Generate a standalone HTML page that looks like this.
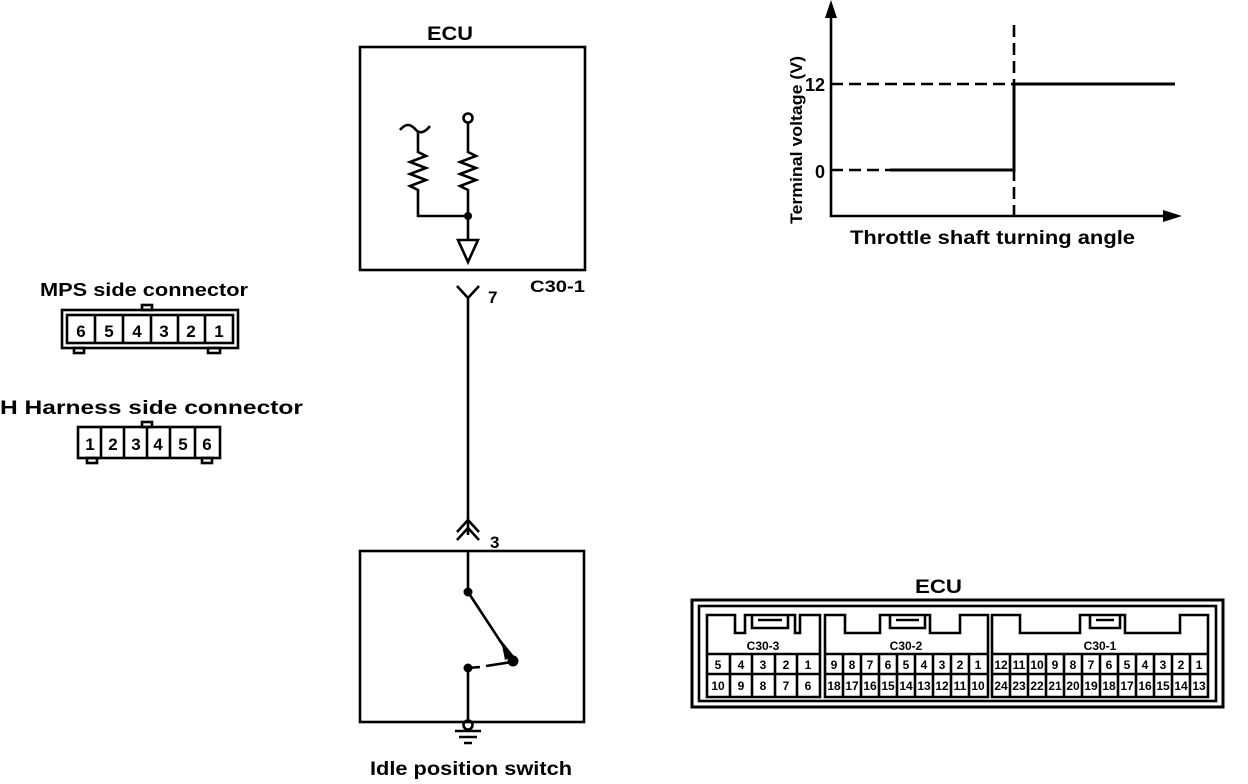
<!DOCTYPE html>
<html><head><meta charset="utf-8"><style>
html,body{margin:0;padding:0;background:#fff}
svg{display:block}
text{font-family:"Liberation Sans",sans-serif;font-weight:bold;fill:#000}
</style></head><body>
<svg width="1248" height="784" viewBox="0 0 1248 784" xmlns="http://www.w3.org/2000/svg">
<g stroke="#000" fill="none" stroke-width="2.6">
<!-- top ECU box -->
<rect x="360" y="47" width="225" height="223"/>
<path d="M400 130 q8 -10 16 0 q6 6 14 -4"/>
<path d="M418 131 V152 l8 4 -16 6 16 6 -16 6 16 6 -16 6 8 4 V216 H468"/>
<circle cx="468" cy="118" r="4.5"/>
<path d="M468 122 V152 l8 4 -16 6 16 6 -16 6 16 6 -16 6 8 4 V240"/>
<path d="M458 240 H478 L468 262 Z"/>
<path d="M457 286 L468 298 L479 286 M468 298 V535"/>
<path d="M457 532 L468 520 L479 532 M457 540 L468 528 L479 540"/>
<rect x="360" y="551" width="224" height="171"/>
<path d="M468 551 V592 L510 656"/>
<path d="M468 668 V720 M468 668 L480 667 M486 666 L512 662"/>
<circle cx="468" cy="725" r="4.5"/>
<path d="M455 731 H481 M459 737 H477 M464 743 H472"/>
<!-- chart -->
<path d="M831 10 V216 H1170"/>
<path d="M831 84 H1014 M831 170 H890 M1014 25 V216" stroke-dasharray="12,6"/>
<path d="M890 170 H1014 V84 H1175" stroke-width="3"/>
<!-- MPS connector -->
<rect x="62" y="310" width="176" height="38"/>
<rect x="67" y="315" width="166" height="28"/>
<path d="M95 315V343 M123 315V343 M151 315V343 M178 315V343 M205 315V343"/>
<rect x="142" y="305" width="10" height="5"/>
<rect x="74" y="348" width="10" height="5"/>
<rect x="208" y="348" width="12" height="5"/>
<rect x="78" y="427" width="142" height="31"/>
<path d="M101 427V458 M124 427V458 M147 427V458 M170 427V458 M195 427V458"/>
<rect x="142" y="422" width="10" height="5"/>
<rect x="87" y="458" width="10" height="5"/>
<rect x="202" y="458" width="10" height="5"/>
<!-- bottom ECU -->
<rect x="692" y="600" width="531" height="107" stroke-width="3"/>
<rect x="699" y="606" width="517" height="95"/>
<path d="M707 697 V615 H735 V633 H745 V615 H795 V633 H800 V615 H820 V697 Z"/>
<path d="M752 615 V628 H788 V615 M758 620 H782"/>
<path d="M707 654 H820 M707 674 H820 M730 654V697 M752 654V697 M775 654V697 M797 654V697"/>
<path d="M825 697 V615 H845 V633 H880 V615 H930 V633 H960 V615 H988 V697 Z"/>
<path d="M890 615 V628 H925 V615 M896 620 H919"/>
<path d="M825 654 H988 M825 674 H988"/>
<path d="M843 654V697 M861 654V697 M879 654V697 M897 654V697 M915 654V697 M933 654V697 M951 654V697 M969 654V697"/>
<path d="M992 697 V615 H1020 V633 H1080 V615 H1125 V633 H1180 V615 H1208 V697 Z"/>
<path d="M1090 615 V628 H1120 V615 M1096 620 H1114"/>
<path d="M992 654 H1208 M992 674 H1208"/>
<path d="M1010 654V697 M1028 654V697 M1046 654V697 M1064 654V697 M1082 654V697 M1100 654V697 M1118 654V697 M1136 654V697 M1154 654V697 M1172 654V697 M1190 654V697"/>
</g>
<g fill="#000">
<circle cx="468" cy="216" r="4"/>
<circle cx="468" cy="592" r="4.5"/>
<circle cx="468" cy="668" r="4.5"/>
<circle cx="513" cy="661" r="5.5"/>
<path d="M501 640 L514 656 L505 660 Z"/>
<path d="M825 18 L831 0 L837 18 Z"/>
<path d="M1163 210 L1182 216 L1163 222 Z"/>
</g>
<text x="427" y="40" font-size="19" textLength="46" lengthAdjust="spacingAndGlyphs">ECU</text>
<text x="488" y="303" font-size="17">7</text>
<text x="530" y="292" font-size="17" textLength="55" lengthAdjust="spacingAndGlyphs">C30-1</text>
<text x="490" y="548" font-size="17">3</text>
<text x="370" y="775" font-size="19" textLength="202" lengthAdjust="spacingAndGlyphs">Idle position switch</text>
<text x="815" y="91" font-size="18" text-anchor="middle">12</text>
<text x="820" y="178" font-size="18" text-anchor="middle">0</text>
<text transform="translate(802,140) rotate(-90)" font-size="17" text-anchor="middle" textLength="168" lengthAdjust="spacingAndGlyphs">Terminal voltage (V)</text>
<text x="850" y="244" font-size="19" textLength="285" lengthAdjust="spacingAndGlyphs">Throttle shaft turning angle</text>
<text x="40" y="296" font-size="18" textLength="208" lengthAdjust="spacingAndGlyphs">MPS side connector</text>
<text x="0" y="414" font-size="19" textLength="303" lengthAdjust="spacingAndGlyphs">H Harness side connector</text>
<g font-size="17" text-anchor="middle">
<text x="81" y="337">6</text><text x="109" y="337">5</text><text x="137" y="337">4</text><text x="164" y="337">3</text><text x="191" y="337">2</text><text x="219" y="337">1</text>
<text x="90" y="450">1</text><text x="113" y="450">2</text><text x="136" y="450">3</text><text x="158" y="450">4</text><text x="183" y="450">5</text><text x="207" y="450">6</text>
</g>
<text x="915" y="593" font-size="19" textLength="47" lengthAdjust="spacingAndGlyphs">ECU</text>
<g font-size="12" text-anchor="middle">
<text x="763" y="650">C30-3</text><text x="906" y="650">C30-2</text><text x="1100" y="650">C30-1</text>
<text x="718" y="669">5</text><text x="741" y="669">4</text><text x="763" y="669">3</text><text x="786" y="669">2</text><text x="808" y="669">1</text>
<text x="718" y="690">10</text><text x="741" y="690">9</text><text x="763" y="690">8</text><text x="786" y="690">7</text><text x="808" y="690">6</text>
<text x="834" y="669">9</text><text x="852" y="669">8</text><text x="870" y="669">7</text><text x="888" y="669">6</text><text x="906" y="669">5</text><text x="924" y="669">4</text><text x="942" y="669">3</text><text x="960" y="669">2</text><text x="978" y="669">1</text>
<text x="834" y="690">18</text><text x="852" y="690">17</text><text x="870" y="690">16</text><text x="888" y="690">15</text><text x="906" y="690">14</text><text x="924" y="690">13</text><text x="942" y="690">12</text><text x="960" y="690">11</text><text x="978" y="690">10</text>
<text x="1001" y="669">12</text><text x="1019" y="669">11</text><text x="1037" y="669">10</text><text x="1055" y="669">9</text><text x="1073" y="669">8</text><text x="1091" y="669">7</text><text x="1109" y="669">6</text><text x="1127" y="669">5</text><text x="1145" y="669">4</text><text x="1163" y="669">3</text><text x="1181" y="669">2</text><text x="1199" y="669">1</text>
<text x="1001" y="690">24</text><text x="1019" y="690">23</text><text x="1037" y="690">22</text><text x="1055" y="690">21</text><text x="1073" y="690">20</text><text x="1091" y="690">19</text><text x="1109" y="690">18</text><text x="1127" y="690">17</text><text x="1145" y="690">16</text><text x="1163" y="690">15</text><text x="1181" y="690">14</text><text x="1199" y="690">13</text>
</g>
</svg>
</body></html>
